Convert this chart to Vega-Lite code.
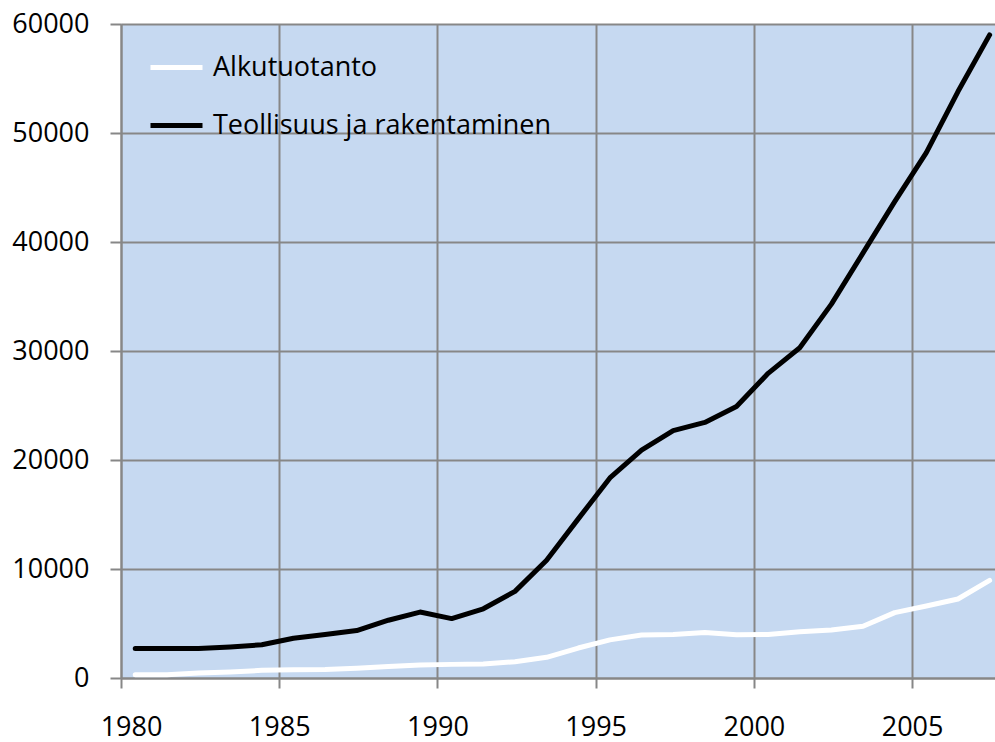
{
  "$schema": "https://vega.github.io/schema/vega-lite/v6.json",
  "autosize": {"type": "none"},
  "width": 874,
  "height": 654,
  "padding": {"left": 121, "top": 24, "right": 0, "bottom": 64},
  "background": "white",
  "config": {
    "view": {"fill": "#C6D9F1", "stroke": null},
    "font": "Open Sans",
    "axis": {
      "gridColor": "#878787", "gridWidth": 2, "gridOpacity": 1,
      "domainColor": "#878787", "domainWidth": 2,
      "tickColor": "#878787", "tickWidth": 2,
      "labelFont": "Open Sans", "labelFontSize": 27, "labelColor": "black",
      "title": null
    }
  },
  "datasets": {
    "rows": [
      {"year": 1980, "series": "Alkutuotanto", "value": 300},
      {"year": 1981, "series": "Alkutuotanto", "value": 300},
      {"year": 1982, "series": "Alkutuotanto", "value": 450},
      {"year": 1983, "series": "Alkutuotanto", "value": 550},
      {"year": 1984, "series": "Alkutuotanto", "value": 700},
      {"year": 1985, "series": "Alkutuotanto", "value": 750},
      {"year": 1986, "series": "Alkutuotanto", "value": 780},
      {"year": 1987, "series": "Alkutuotanto", "value": 900},
      {"year": 1988, "series": "Alkutuotanto", "value": 1050},
      {"year": 1989, "series": "Alkutuotanto", "value": 1200},
      {"year": 1990, "series": "Alkutuotanto", "value": 1250},
      {"year": 1991, "series": "Alkutuotanto", "value": 1280},
      {"year": 1992, "series": "Alkutuotanto", "value": 1500},
      {"year": 1993, "series": "Alkutuotanto", "value": 1900},
      {"year": 1994, "series": "Alkutuotanto", "value": 2750},
      {"year": 1995, "series": "Alkutuotanto", "value": 3500},
      {"year": 1996, "series": "Alkutuotanto", "value": 3950},
      {"year": 1997, "series": "Alkutuotanto", "value": 4000},
      {"year": 1998, "series": "Alkutuotanto", "value": 4180},
      {"year": 1999, "series": "Alkutuotanto", "value": 3970},
      {"year": 2000, "series": "Alkutuotanto", "value": 4000},
      {"year": 2001, "series": "Alkutuotanto", "value": 4250},
      {"year": 2002, "series": "Alkutuotanto", "value": 4400},
      {"year": 2003, "series": "Alkutuotanto", "value": 4750},
      {"year": 2004, "series": "Alkutuotanto", "value": 6000},
      {"year": 2005, "series": "Alkutuotanto", "value": 6600},
      {"year": 2006, "series": "Alkutuotanto", "value": 7250},
      {"year": 2007, "series": "Alkutuotanto", "value": 8950},
      {"year": 1980, "series": "Teollisuus ja rakentaminen", "value": 2700},
      {"year": 1981, "series": "Teollisuus ja rakentaminen", "value": 2700},
      {"year": 1982, "series": "Teollisuus ja rakentaminen", "value": 2700},
      {"year": 1983, "series": "Teollisuus ja rakentaminen", "value": 2850},
      {"year": 1984, "series": "Teollisuus ja rakentaminen", "value": 3050},
      {"year": 1985, "series": "Teollisuus ja rakentaminen", "value": 3650},
      {"year": 1986, "series": "Teollisuus ja rakentaminen", "value": 4000},
      {"year": 1987, "series": "Teollisuus ja rakentaminen", "value": 4350},
      {"year": 1988, "series": "Teollisuus ja rakentaminen", "value": 5300},
      {"year": 1989, "series": "Teollisuus ja rakentaminen", "value": 6050},
      {"year": 1990, "series": "Teollisuus ja rakentaminen", "value": 5450},
      {"year": 1991, "series": "Teollisuus ja rakentaminen", "value": 6350},
      {"year": 1992, "series": "Teollisuus ja rakentaminen", "value": 7950},
      {"year": 1993, "series": "Teollisuus ja rakentaminen", "value": 10800},
      {"year": 1994, "series": "Teollisuus ja rakentaminen", "value": 14600},
      {"year": 1995, "series": "Teollisuus ja rakentaminen", "value": 18350},
      {"year": 1996, "series": "Teollisuus ja rakentaminen", "value": 20900},
      {"year": 1997, "series": "Teollisuus ja rakentaminen", "value": 22700},
      {"year": 1998, "series": "Teollisuus ja rakentaminen", "value": 23450},
      {"year": 1999, "series": "Teollisuus ja rakentaminen", "value": 24900},
      {"year": 2000, "series": "Teollisuus ja rakentaminen", "value": 27950},
      {"year": 2001, "series": "Teollisuus ja rakentaminen", "value": 30300},
      {"year": 2002, "series": "Teollisuus ja rakentaminen", "value": 34300},
      {"year": 2003, "series": "Teollisuus ja rakentaminen", "value": 39000},
      {"year": 2004, "series": "Teollisuus ja rakentaminen", "value": 43700},
      {"year": 2005, "series": "Teollisuus ja rakentaminen", "value": 48200},
      {"year": 2006, "series": "Teollisuus ja rakentaminen", "value": 53800},
      {"year": 2007, "series": "Teollisuus ja rakentaminen", "value": 59000}
    ]
  },
  "data": {"name": "rows"},
  "mark": {"type": "line", "strokeWidth": 5, "strokeCap": "round", "strokeJoin": "round", "clip": true},
  "encoding": {
    "x": {
      "field": "year", "type": "quantitative",
      "scale": {"domain": [1979.55, 2007.17], "nice": false, "zero": false},
      "axis": {
        "values": [1979.55, 1984.55, 1989.55, 1994.55, 1999.55, 2004.55],
        "labelExpr": "format(round(datum.value), 'd')",
        "tickSize": 10, "labelPadding": 26, "labelBaseline": "top",
        "labelOffset": {"condition": {"test": "datum.value < 1980", "value": 10}, "value": 0},
        "labelFlush": false, "labelOverlap": false
      }
    },
    "y": {
      "field": "value", "type": "quantitative",
      "scale": {"domain": [0, 60000], "nice": false},
      "axis": {
        "values": [0, 10000, 20000, 30000, 40000, 50000, 60000],
        "format": "d", "tickSize": 11, "labelPadding": 21, "labelFlush": false, "labelOverlap": false
      }
    },
    "color": {
      "field": "series", "type": "nominal",
      "scale": {"domain": ["Alkutuotanto", "Teollisuus ja rakentaminen"], "range": ["#FFFFFF", "#000000"]},
      "legend": {
        "title": null, "orient": "none", "legendX": 27, "legendY": 15, "padding": 0,
        "symbolType": "stroke", "symbolSize": 2704, "symbolStrokeWidth": 5,
        "labelFont": "Open Sans", "labelFontSize": 27, "labelColor": "black",
        "labelOffset": 8, "rowPadding": 16, "labelLimit": 600
      }
    }
  }
}
